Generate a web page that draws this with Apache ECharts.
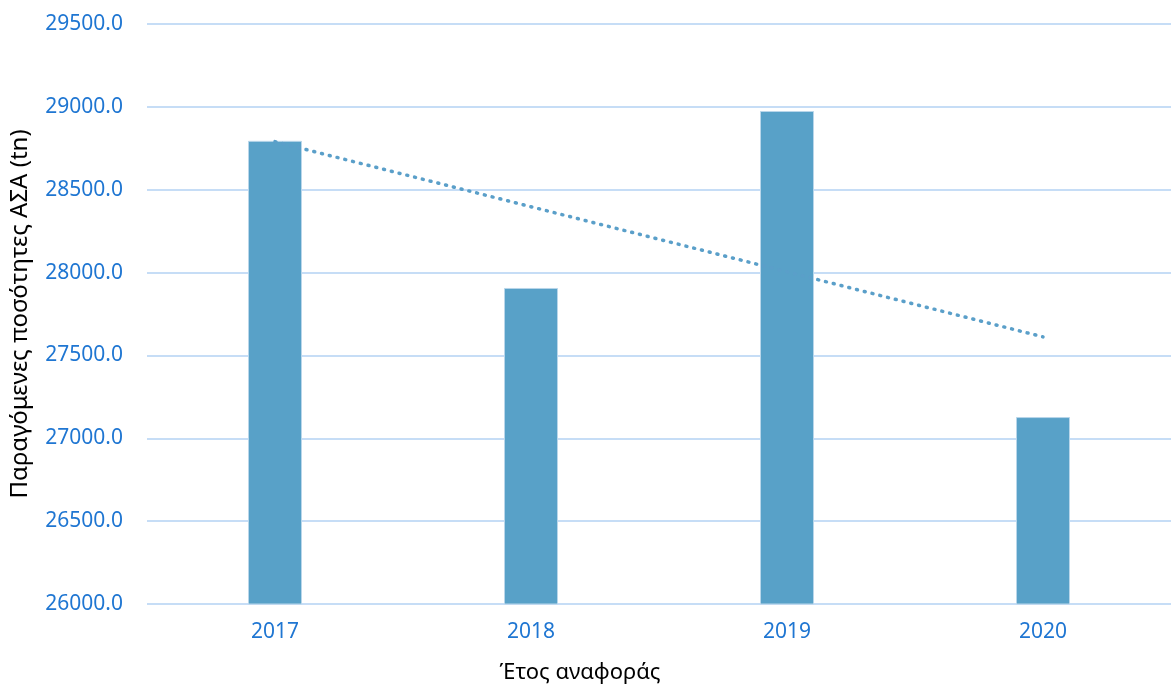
<!DOCTYPE html>
<html>
<head>
<meta charset="utf-8">
<script src="https://cdn.jsdelivr.net/npm/echarts@6/dist/echarts.min.js"></script>
<style>
html,body{margin:0;padding:0;background:#fff;}
#chart{width:1171px;height:688px;}
</style>
</head>
<body>
<div id="chart"></div>
<script>
var categories = ['2017', '2018', '2019', '2020'];
var quantities = [28795, 27907, 28975, 27128];
var trendValues = [28790, null, null, 27612];
var yTicks = {min: 26000, max: 29500, interval: 500};

var chart = echarts.init(document.getElementById('chart'));
chart.setOption({
  animation: false,
  grid: {left: 147, right: 0, top: 24, bottom: 84, containLabel: false, outerBoundsMode: 'none'},
  xAxis: {
    type: 'category',
    data: categories,
    name: 'Έτος αναφοράς',
    nameLocation: 'middle',
    nameGap: 58,
    nameTextStyle: {color: '#000', fontSize: 22, fontFamily: 'Noto Sans', padding: [0, 158, 0, 0]},
    axisLine: {show: false},
    axisTick: {show: false},
    axisLabel: {color: '#1f76d2', fontSize: 21, fontFamily: 'Noto Sans', margin: 18}
  },
  yAxis: {
    type: 'value',
    min: yTicks.min, max: yTicks.max, interval: yTicks.interval,
    name: 'Παραγόμενες ποσότητες ΑΣΑ (tn)',
    nameLocation: 'middle',
    nameGap: 115,
    nameRotate: 90,
    nameTextStyle: {color: '#000', fontSize: 24, fontFamily: 'Noto Sans'},
    axisLine: {show: false},
    axisTick: {show: false},
    axisLabel: {color: '#1f76d2', fontSize: 21, fontFamily: 'Noto Sans', margin: 24,
      formatter: function (v) { return v.toFixed(1); }},
    splitLine: {lineStyle: {color: '#c6ddf6', width: 2}}
  },
  series: [
    {
      type: 'bar',
      data: quantities,
      barWidth: 54,
      itemStyle: {color: '#58a1c8', borderColor: '#b9d6ea', borderWidth: 1}
    },
    {
      type: 'line',
      data: trendValues,
      connectNulls: true,
      symbol: 'none',
      lineStyle: {color: '#5a9fc9', width: 3.5, type: [1, 7], cap: 'round'},
      z: 5
    }
  ]
});
</script>
</body>
</html>
